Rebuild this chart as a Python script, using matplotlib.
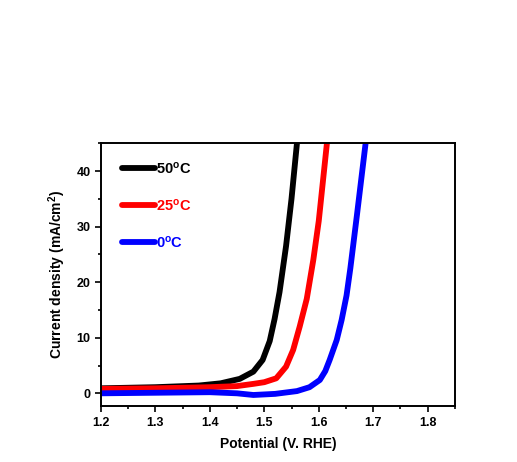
import matplotlib
matplotlib.use('Agg')
import matplotlib.pyplot as plt
from matplotlib.ticker import MultipleLocator

plt.rcParams['font.family'] = ['Liberation Sans', 'DejaVu Sans']
plt.rcParams['font.weight'] = 'bold'
plt.rcParams['mathtext.default'] = 'regular'

# LSV curves
v_50 = [1.20, 1.30, 1.38, 1.42, 1.455, 1.48, 1.497, 1.51, 1.519, 1.528, 1.54, 1.55, 1.56]
j_50 = [0.9, 1.1, 1.4, 1.8, 2.6, 3.9, 6.0, 9.4, 13.4, 18.2, 26.5, 35, 45]

v_25 = [1.20, 1.30, 1.40, 1.45, 1.48, 1.50, 1.522, 1.54, 1.553, 1.565, 1.578, 1.59, 1.60, 1.615]
j_25 = [0.8, 0.9, 1.1, 1.3, 1.7, 2.0, 2.7, 4.8, 7.8, 12, 17, 24, 31, 45]

v_0 = [1.20, 1.30, 1.40, 1.45, 1.48, 1.52, 1.56, 1.583, 1.602, 1.612, 1.62, 1.633, 1.642, 1.651, 1.658, 1.67, 1.686]
j_0 = [0.0, 0.1, 0.2, 0.0, -0.3, -0.1, 0.4, 1.1, 2.4, 4.0, 6.0, 9.6, 13.2, 17.6, 22.5, 32, 45]

labels = ['50$^{o}$C', '25$^{o}$C', '0$^{o}$C']
colors = ['black', 'red', 'blue']

fig = plt.figure(figsize=(5.17, 4.62), dpi=100)
ax = fig.add_axes([0.195, 0.121, 0.685, 0.569])

for v, j, lab, c in zip([v_50, v_25, v_0], [j_50, j_25, j_0], labels, colors):
    ax.plot(v, j, color=c, lw=4.2, label=lab, solid_capstyle='round', solid_joinstyle='round')

ax.set_xlim(1.2, 1.85)
ax.set_ylim(-2.3, 45)
ax.xaxis.set_major_locator(MultipleLocator(0.1))
ax.xaxis.set_minor_locator(MultipleLocator(0.05))
ax.yaxis.set_major_locator(MultipleLocator(10))
ax.yaxis.set_minor_locator(MultipleLocator(5))
ax.tick_params(which='major', direction='out', length=4, width=1.2, labelsize=9)
ax.tick_params(which='minor', direction='out', length=2.5, width=1.2)
for s in ax.spines.values():
    s.set_linewidth(1.4)

ax.set_xlabel('Potential (V. RHE)', fontsize=10, fontweight='bold', labelpad=6)
ax.set_ylabel('Current density (mA/cm$^{2}$)', fontsize=10, fontweight='bold', labelpad=6)

leg = ax.legend(loc='upper left', bbox_to_anchor=(0.059, 0.935), frameon=False,
                borderpad=0, borderaxespad=0, handlelength=2.27, handletextpad=0.1,
                labelspacing=1.45, labelcolor='linecolor',
                prop={'weight': 'bold', 'size': 10.5})

fig.savefig('out.png', dpi=100)
